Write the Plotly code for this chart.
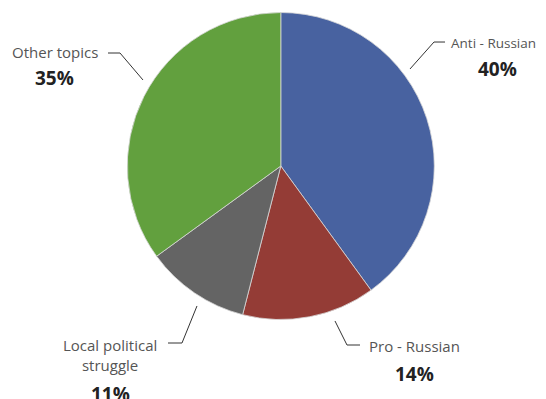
import plotly.graph_objects as go

labels = ["Anti - Russian", "Pro - Russian", "Local political<br>struggle", "Other topics"]
values = [40, 14, 11, 35]
colors = ["#4862a0", "#943c36", "#646464", "#62a03e"]

# page is 546x399; the html body has an 8px margin, so the figure is 538x391
OFF = 8
W, H = 546 - OFF, 399 - OFF


def px(x, y):
    """page pixel -> paper coordinates"""
    return (x - OFF) / W, 1 - (y - OFF) / H


dx0, dy0 = px(127.3, 319.5)
dx1, dy1 = px(434.3, 12.5)

fig = go.Figure(go.Pie(
    labels=labels, values=values, sort=False, direction="clockwise", rotation=0,
    marker=dict(colors=colors, line=dict(color="#d8d8d8", width=0.8)),
    textinfo="none", hoverinfo="label+percent", showlegend=False,
    domain=dict(x=[dx0, dx1], y=[dy0, dy1]),
))

total = sum(values)
pcts = [f"{round(v / total * 100)}%" for v in values]

# label placement (page pixels, anchor) and leader lines (page pixel paths)
label_pos = [(450, 43, "left"), (414, 346, "center"), (110, 355, "center"), (55, 52, "center")]
label_size = [13.5, 15, 15, 15]
pct_pos = [(497, 69), (414, 374), (110, 394), (54, 78)]
leaders = [
    [(410, 69), (434, 42), (445, 42)],
    [(335, 321), (347, 345), (360, 345)],
    [(197, 306), (182, 343), (168, 343)],
    [(143, 80), (120, 53), (108, 53)],
]

for lab, pct, lp, sz, pp in zip(labels, pcts, label_pos, label_size, pct_pos):
    lx, ly = px(lp[0], lp[1])
    fig.add_annotation(x=lx, y=ly, xref="paper", yref="paper", text=lab, showarrow=False,
                       font=dict(family="Open Sans", size=sz, color="#555555"),
                       xanchor=lp[2], yanchor="middle", align="center", borderpad=0)
    qx, qy = px(*pp)
    fig.add_annotation(x=qx, y=qy, xref="paper", yref="paper", text=f"<b>{pct}</b>", showarrow=False,
                       font=dict(family="Open Sans", size=19, color="#222222"),
                       xanchor="center", yanchor="middle")

for pts in leaders:
    path = "M " + " L ".join(f"{px(x, y)[0]:.4f},{px(x, y)[1]:.4f}" for x, y in pts)
    fig.add_shape(type="path", path=path, xref="paper", yref="paper",
                  line=dict(color="#333333", width=1))

fig.update_layout(width=W, height=H, margin=dict(l=0, r=0, t=0, b=0),
                  paper_bgcolor="white", plot_bgcolor="white")

fig.write_html("out.html")
